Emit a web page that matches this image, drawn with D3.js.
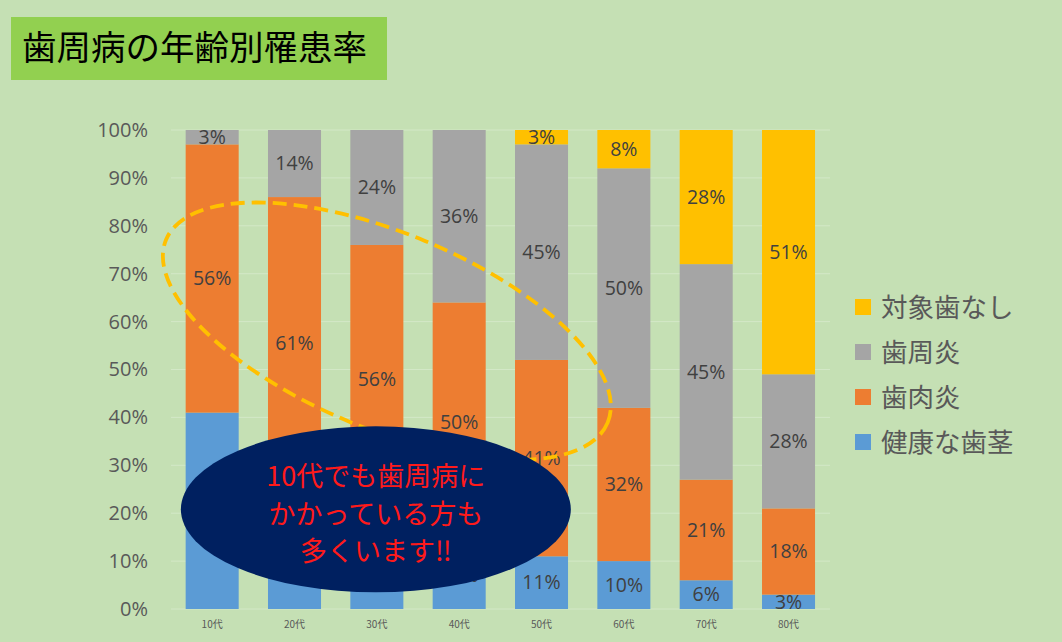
<!DOCTYPE html>
<html>
<head>
<meta charset="utf-8">
<script src="https://cdn.jsdelivr.net/npm/d3@7"></script>
<style>
  body { margin: 0; background: #c5e0b4; }
  svg { display: block; }
</style>
</head>
<body>
<div class="chart"></div>
<script>
var categories = ["10代", "20代", "30代", "40代", "50代", "60代", "70代", "80代"];
var seriesNames = ["健康な歯茎", "歯肉炎", "歯周炎", "対象歯なし"];
var healthy = [41, 25, 20, 14, 11, 10, 6, 3];
var gingivitis = [56, 61, 56, 50, 41, 32, 21, 18];
var periodontitis = [3, 14, 24, 36, 45, 50, 45, 28];
var noTeeth = [0, 0, 0, 0, 3, 8, 28, 51];
var yTicks = [0, 10, 20, 30, 40, 50, 60, 70, 80, 90, 100];
var titleText = "歯周病の年齢別罹患率";
var noteLines = ["10代でも歯周病に", "かかっている方も", "多くいます‼"];

function init() {
  var w = 1062;
  var h = 642;
  var colors = ["#5b9bd5", "#ed7d31", "#a5a5a5", "#ffc000"];
  var jp = "'Noto Sans CJK JP', 'Noto Sans', sans-serif";
  var num = "'Open Sans', 'Noto Sans', sans-serif";

  var table = categories.map(function(c, i) {
    var row = { cat: c };
    row[seriesNames[0]] = healthy[i];
    row[seriesNames[1]] = gingivitis[i];
    row[seriesNames[2]] = periodontitis[i];
    row[seriesNames[3]] = noTeeth[i];
    return row;
  });

  var stacked = d3.stack().keys(seriesNames)(table);

  var xScale = d3.scaleBand()
    .domain(categories)
    .range([171, 829.7])
    .paddingInner(0.356)
    .paddingOuter(0.178);

  var yScale = d3.scaleLinear()
    .domain([0, 100])
    .range([609, 130]);

  var colorScale = d3.scaleOrdinal()
    .domain(seriesNames)
    .range(colors);

  var svg = d3.select(".chart")
    .append("svg")
    .attr("width", w)
    .attr("height", h);

  svg.append("rect")
    .attr("width", w)
    .attr("height", h)
    .attr("fill", "#c5e0b4");

  // title box
  svg.append("rect")
    .attr("x", 11)
    .attr("y", 17)
    .attr("width", 376)
    .attr("height", 63)
    .attr("fill", "#92d050");

  svg.append("text")
    .attr("x", 22)
    .attr("y", 60)
    .attr("font-family", jp)
    .attr("font-size", "34.5px")
    .attr("fill", "#000")
    .text(titleText);

  // gridlines
  svg.append("g")
    .selectAll("line")
    .data(yTicks)
    .enter()
    .append("line")
    .attr("x1", 171)
    .attr("x2", 830)
    .attr("y1", function(d) { return yScale(d); })
    .attr("y2", function(d) { return yScale(d); })
    .attr("stroke", "#d3e8c7")
    .attr("stroke-width", 1);

  // y axis
  var yAxis = svg.append("g")
    .attr("transform", "translate(171,0)")
    .call(d3.axisLeft(yScale)
      .tickValues(yTicks)
      .tickSize(0)
      .tickPadding(23)
      .tickFormat(function(d) { return d + "%"; }));
  yAxis.select(".domain").remove();
  yAxis.selectAll("text")
    .attr("font-family", num)
    .attr("font-size", "20px")
    .attr("fill", "#595959");

  // x axis
  var xAxis = svg.append("g")
    .attr("transform", "translate(0,617)")
    .call(d3.axisBottom(xScale).tickSize(0).tickPadding(4));
  xAxis.select(".domain").remove();
  xAxis.selectAll("text")
    .attr("font-family", jp)
    .attr("font-size", "10px")
    .attr("fill", "#595959");

  // bars
  var layers = svg.append("g")
    .selectAll("g")
    .data(stacked)
    .enter()
    .append("g")
    .attr("fill", function(d) { return colorScale(d.key); });

  layers.selectAll("rect")
    .data(function(d) { return d; })
    .enter()
    .append("rect")
    .attr("x", function(d) { return xScale(d.data.cat); })
    .attr("y", function(d) { return yScale(d[1]); })
    .attr("width", xScale.bandwidth())
    .attr("height", function(d) { return yScale(d[0]) - yScale(d[1]); });

  // value labels
  layers.selectAll("text")
    .data(function(d) { return d.filter(function(s) { return s[1] - s[0] > 0; }); })
    .enter()
    .append("text")
    .attr("x", function(d) { return xScale(d.data.cat) + xScale.bandwidth() / 2; })
    .attr("y", function(d) { return (yScale(d[0]) + yScale(d[1])) / 2; })
    .attr("dy", "0.35em")
    .attr("text-anchor", "middle")
    .attr("font-family", num)
    .attr("font-size", "19.5px")
    .attr("fill", "#404040")
    .text(function(d) { return (d[1] - d[0]) + "%"; });

  // legend
  var legend = svg.append("g")
    .selectAll("g")
    .data(seriesNames.slice().reverse())
    .enter()
    .append("g")
    .attr("transform", function(d, i) { return "translate(855," + (307 + i * 45) + ")"; });

  legend.append("rect")
    .attr("y", -8)
    .attr("width", 16)
    .attr("height", 16)
    .attr("fill", function(d) { return colorScale(d); });

  legend.append("text")
    .attr("x", 26)
    .attr("dy", "0.36em")
    .attr("font-family", jp)
    .attr("font-size", "26.5px")
    .attr("fill", "#595959")
    .text(function(d) { return d; });

  // dashed highlight ellipse
  var cx = xScale("30代") + xScale.bandwidth() / 2 + 10;
  var cy = yScale(58);
  svg.append("ellipse")
    .attr("transform", "translate(" + cx + "," + cy + ") rotate(22.5)")
    .attr("rx", 239)
    .attr("ry", 98)
    .attr("fill", "none")
    .attr("stroke", "#ffc000")
    .attr("stroke-width", 3.8)
    .attr("stroke-dasharray", "14,7");

  // callout
  var nx = xScale("30代") + xScale.bandwidth() / 2 - 1;
  var ny = yScale(20.8);
  svg.append("ellipse")
    .attr("cx", nx)
    .attr("cy", ny)
    .attr("rx", 195)
    .attr("ry", 83)
    .attr("fill", "#002060");

  svg.append("g")
    .selectAll("text")
    .data(noteLines)
    .enter()
    .append("text")
    .attr("x", nx)
    .attr("y", function(d, i) { return ny - 33 + i * 37.5; })
    .attr("dy", "0.36em")
    .attr("text-anchor", "middle")
    .attr("font-family", jp)
    .attr("font-size", "27px")
    .attr("fill", "#ff1a1a")
    .text(function(d) { return d; });
}

window.onload = init;
</script>
</body>
</html>
